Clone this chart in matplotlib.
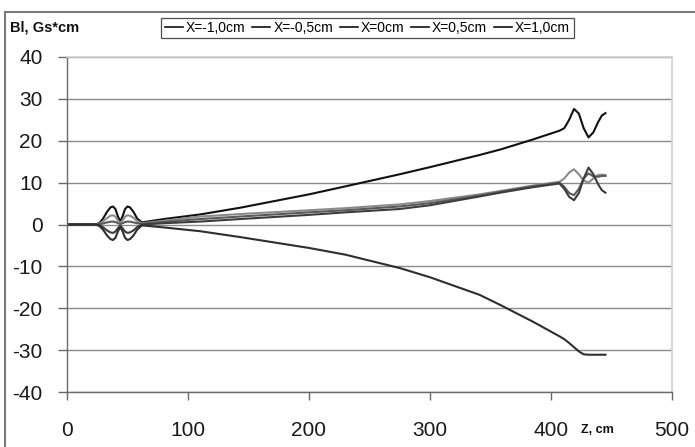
import matplotlib
matplotlib.use("Agg")
import matplotlib.pyplot as plt
from matplotlib.lines import Line2D

plt.rcParams['font.family'] = ['Liberation Sans', 'DejaVu Sans']
plt.rcParams['axes.unicode_minus'] = False

# Longitudinal coordinate, cm
z = [0, 20, 24, 27, 30, 33, 36, 38, 40, 42, 44, 46, 48, 50, 52, 55, 58, 62,
     80, 110, 143, 200, 230, 275, 300, 341, 358, 385, 407, 411, 415, 419, 423,
     427, 431, 435, 439, 442, 445]

# Field integral Bl, Gs*cm, for each transverse offset X
bl_m10 = [0, 0, 0.0, 0.4, 1.5, 3.0, 4.1, 4.3, 3.7, 2.0, 0.7, 2.0, 3.7, 4.3,
          4.1, 3.0, 1.4, 0.5, 1.3, 2.4, 4.0, 7.2, 9.1, 12.0, 13.7, 16.6, 17.9,
          20.3, 22.4, 23.0, 25.0, 27.6, 26.5, 23.0, 20.8, 22.0, 24.5, 26.0, 26.6]
bl_m05 = [0, 0, 0.0, 0.2, 0.8, 1.5, 2.1, 2.2, 1.9, 1.0, 0.35, 1.0, 1.9, 2.2,
          2.1, 1.6, 0.8, 0.3, 0.9, 1.9, 2.5, 3.4, 3.9, 4.8, 5.6, 7.2, 8.0,
          9.3, 10.2, 11.0, 12.4, 13.2, 12.0, 10.5, 10.0, 11.0, 11.8, 11.9, 11.8]
bl_0 = [0, 0, 0.0, 0.07, 0.25, 0.5, 0.67, 0.7, 0.6, 0.32, 0.1, 0.32, 0.6, 0.7,
        0.67, 0.5, 0.3, 0.15, 0.6, 1.3, 1.9, 2.9, 3.4, 4.3, 5.1, 6.9, 7.8,
        9.1, 10.0, 9.0, 7.5, 7.0, 8.5, 11.0, 12.2, 11.5, 11.4, 11.6, 11.6]
bl_p05 = [0, 0, 0.0, -0.2, -0.7, -1.4, -1.9, -2.0, -1.7, -0.9, -0.3, -0.9, -1.7,
          -2.0, -1.9, -1.4, -0.6, 0.0, 0.3, 0.7, 1.3, 2.3, 2.9, 3.7, 4.6, 6.7,
          7.6, 8.9, 9.8, 8.5, 6.6, 5.8, 7.5, 11.0, 13.6, 12.0, 9.6, 8.2, 7.6]
bl_p10 = [0, 0, 0.0, -0.4, -1.3, -2.6, -3.5, -3.7, -3.2, -1.7, -0.6, -1.7, -3.2,
          -3.7, -3.5, -2.6, -1.2, -0.2, -0.7, -1.6, -3.0, -5.6, -7.2, -10.4,
          -12.6, -16.8, -19.2, -23.2, -26.7, -27.4, -28.3, -29.3, -30.3, -31.0,
          -31.1, -31.1, -31.1, -31.1, -31.1]

labels = ['X=-1,0cm', 'X=-0,5cm', 'X=0cm', 'X=0,5cm', 'X=1,0cm']
series = [bl_m10, bl_m05, bl_0, bl_p05, bl_p10]
colors = ['#111111', '#8a8a8a', '#5a5a5a', '#3c3c3c', '#2e2e2e']

x_ticks = [0, 100, 200, 300, 400, 500]
y_ticks = [-40, -30, -20, -10, 0, 10, 20, 30, 40]

fig = plt.figure(figsize=(6.95, 4.47), dpi=100)
ax = fig.add_axes([67 / 695, 1 - 392 / 447, 605 / 695, 335 / 447])

for vals, col, lab in zip(series, colors, labels):
    ax.plot(z, vals, color=col, lw=1.5, label=lab, solid_joinstyle='round')

ax.set_xlim(0, 500)
ax.set_ylim(-40, 40)
ax.set_xticks(x_ticks)
ax.set_yticks(y_ticks)
ax.set_axisbelow(True)
ax.yaxis.grid(True, color='#8c8c8c', lw=1.0)

for side in ('left', 'bottom'):
    ax.spines[side].set_color('#6a6a6a')
    ax.spines[side].set_linewidth(1.0)
for side in ('top', 'right'):
    ax.spines[side].set_color('#cfcfcf')
    ax.spines[side].set_linewidth(1.2)

ax.tick_params(axis='y', direction='out', length=6.5, width=1, color='#6a6a6a',
               pad=11, labelsize=15, labelcolor='#1a1a1a')
ax.tick_params(axis='x', direction='out', length=6, width=1, color='#6a6a6a',
               pad=15, labelsize=15, labelcolor='#1a1a1a')

fig.text(10 / 695, 1 - 28 / 447, 'Bl, Gs*cm', fontsize=10.5, fontweight='bold',
         ha='left', va='center', color='#111111')
fig.text(597 / 695, 1 - 430 / 447, 'Z, cm', fontsize=9, fontweight='bold',
         ha='center', va='center', color='#111111')

leg = fig.legend(loc='center', bbox_to_anchor=(367.5 / 695, 1 - 28 / 447),
                 ncol=5, fontsize=10, frameon=True, fancybox=False,
                 handlelength=1.3, handletextpad=0.2, columnspacing=0.5,
                 borderpad=0.25, borderaxespad=0)
leg.get_frame().set_edgecolor('#222222')
leg.get_frame().set_linewidth(0.9)
for h in leg.get_lines():
    h.set_color('#111111')
    h.set_linewidth(1.2)

# outer chart frame
fig.add_artist(Line2D([5 / 695, 1.0], [1 - 12 / 447, 1 - 12 / 447],
                      transform=fig.transFigure, color='#7a7a7a', lw=1.5))
fig.add_artist(Line2D([5 / 695, 5 / 695], [0.0, 1 - 12 / 447],
                      transform=fig.transFigure, color='#7a7a7a', lw=1.5))

fig.savefig('out.png', dpi=100)
